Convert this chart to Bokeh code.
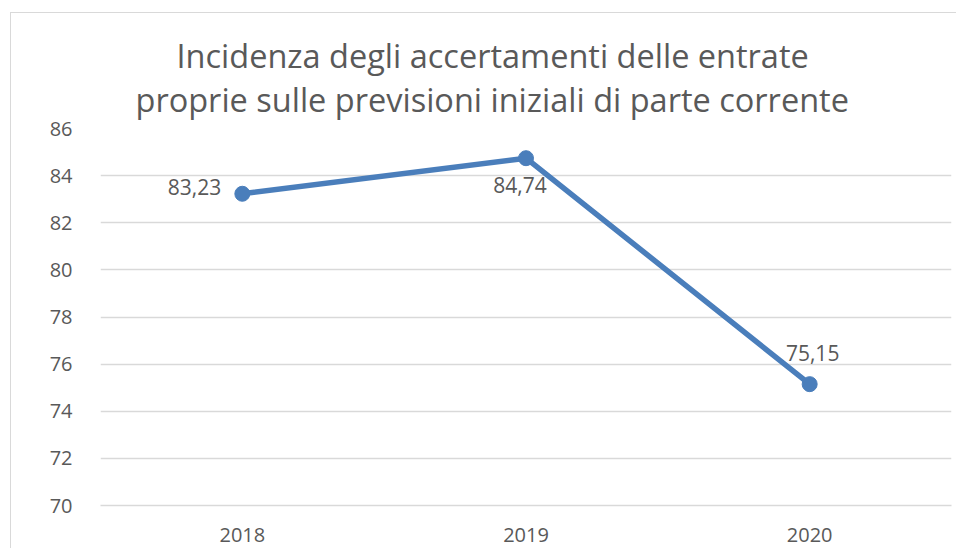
from bokeh.plotting import figure
from bokeh.models import ColumnDataSource, FactorRange, Range1d, FixedTicker, LabelSet, Title
from bokeh.core.properties import value
from bokeh.embed import file_html
from bokeh.resources import INLINE

# ---- data ----
years = ["2018", "2019", "2020"]
values = [83.23, 84.74, 75.15]
value_labels = ["83,23", "84,74", "75,15"]
label_place = ["left", "below", "above"]
y_ticks = [70, 72, 74, 76, 78, 80, 82, 84, 86]
title_lines = ["Incidenza degli accertamenti delle entrate",
               "proprie sulle previsioni iniziali di parte corrente"]

FONT = "Open Sans"
TXT = "#595959"
GRID = "#d9d9d9"
BLUE = "#4A7EBB"

# placement -> (x_offset, y_offset, align)
place_map = {"left": (-21, -1, "right"), "below": (-6, -35, "center"), "above": (3, 23, "center")}

src = ColumnDataSource(dict(
    year=years, val=values, lab=value_labels,
    xo=[place_map[k][0] for k in label_place],
    yo=[place_map[k][1] for k in label_place],
    al=[place_map[k][2] for k in label_place],
))

W, H = 946, 536
p = figure(width=W, height=H, x_range=FactorRange(factors=years), y_range=Range1d(70, 86),
           output_backend="svg", toolbar_location=None,
           min_border_left=89, min_border_right=6, min_border_top=115, min_border_bottom=44)
p.styles = {"border-left": "1px solid #d9d9d9", "border-top": "1px solid #d9d9d9",
            "margin-left": "10px", "margin-top": "12px"}
p.outline_line_color = None
p.background_fill_color = "white"
p.border_fill_color = "white"

p.xgrid.grid_line_color = None
p.ygrid.grid_line_color = GRID
p.ygrid.grid_line_width = 1.3
p.yaxis.ticker = FixedTicker(ticks=y_ticks)

for ax in (p.xaxis, p.yaxis):
    ax.major_tick_line_color = None
    ax.minor_tick_line_color = None
    ax.major_label_text_font = FONT
    ax.major_label_text_font_size = "20px"
    ax.major_label_text_color = TXT
p.yaxis.axis_line_color = None
p.yaxis.major_label_standoff = 22
p.xaxis.axis_line_color = GRID
p.xaxis.axis_line_width = 1.3
p.xaxis.major_label_standoff = 16

p.line(x="year", y="val", source=src, line_color=BLUE, line_width=5.5)
p.scatter(x="year", y="val", source=src, size=15, fill_color=BLUE, line_color=BLUE)

p.add_layout(LabelSet(x="year", y="val", text="lab", source=src,
                      x_offset="xo", y_offset="yo", text_align="al",
                      text_baseline="alphabetic", text_font=value(FONT),
                      text_font_size="21px", text_color=TXT))

# title: second line added first (nearest the frame), then first line above it
p.add_layout(Title(text=title_lines[1], align="left", offset=35, standoff=14,
                   text_font=FONT, text_font_size="32.5px", text_font_style="normal",
                   text_color=TXT), "above")
p.add_layout(Title(text=title_lines[0], align="left", offset=76, standoff=-21,
                   text_font=FONT, text_font_size="32.5px", text_font_style="normal",
                   text_color=TXT), "above")

open("out.html", "w").write(file_html(p, INLINE))
